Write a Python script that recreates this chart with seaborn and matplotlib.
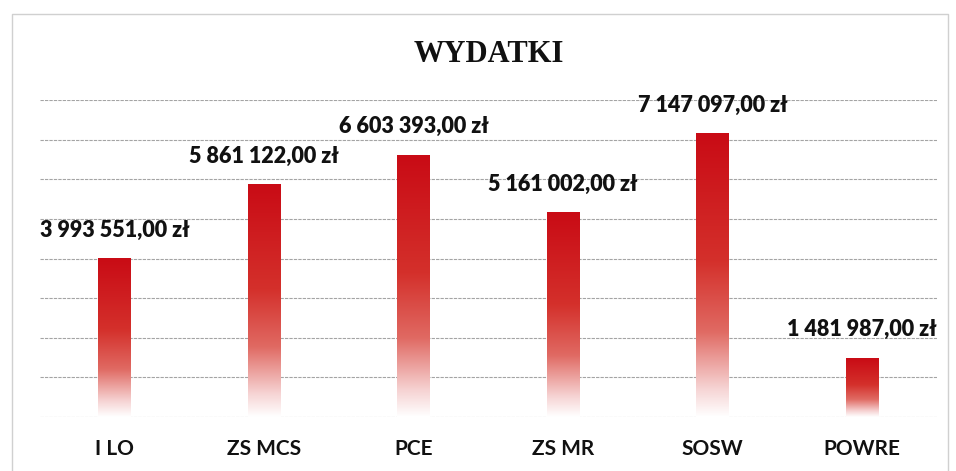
import numpy as np
import pandas as pd
import matplotlib
matplotlib.use("Agg")
import matplotlib.pyplot as plt
from matplotlib.colors import LinearSegmentedColormap
import seaborn as sns

categories = ["I LO", "ZS MCS", "PCE", "ZS MR", "SOSW", "POWRE"]
wydatki = [3993551.00, 5861122.00, 6603393.00, 5161002.00, 7147097.00, 1481987.00]
title = "WYDATKI"


def fmt_zl(v):
    s = f"{v:,.2f}"
    whole, frac = s.split(".")
    return whole.replace(",", " ") + "," + frac + " zł"


df = pd.DataFrame({"jednostka": categories, "kwota": wydatki})

sns.set_theme(style="white")
plt.rcParams["font.family"] = ["Lato", "DejaVu Sans"]

fig = plt.figure(figsize=(9.56, 4.71), dpi=100)
ax = fig.add_axes([40 / 956, 54 / 471, 897 / 956, 317 / 471])

sns.barplot(data=df, x="jednostka", y="kwota", ax=ax, color="#cc0c16", width=0.22)

# gradient fill like the original (red on top fading to white at the bottom)
cmap = LinearSegmentedColormap.from_list(
    "fade",
    [(0.0, "#ffffff"), (0.1, "#f6d3d3"), (0.3, "#e06a63"), (0.55, "#d4302b"), (1.0, "#c90b15")],
)
grad = np.linspace(1, 0, 256).reshape(-1, 1)
for bar in ax.patches:
    x0, w, h = bar.get_x(), bar.get_width(), bar.get_height()
    ax.imshow(grad, cmap=cmap, aspect="auto", extent=[x0, x0 + w, 0, h], zorder=3)
    bar.set_visible(False)

for i, v in enumerate(df["kwota"]):
    ax.annotate(fmt_zl(v), xy=(i, v), xytext=(0, 13), textcoords="offset points",
                ha="center", va="bottom", fontsize=15.5, fontweight="heavy", color="#111111")

ax.set_xlim(-0.5, len(categories) - 0.5)
ax.set_ylim(0, 8_000_000)
ax.set_yticks(np.arange(0, 8_000_001, 1_000_000))
ax.yaxis.grid(True, color="#a4a4a4", linewidth=0.8, linestyle=(0, (3, 1)))
ax.set_axisbelow(True)
ax.set_yticklabels([])
ax.tick_params(axis="y", length=0)
ax.tick_params(axis="x", length=0, pad=16, labelsize=15, labelcolor="#111111")
for lbl in ax.get_xticklabels():
    lbl.set_fontweight("bold")
ax.set_xlabel("")
ax.set_ylabel("")
sns.despine(ax=ax, left=True, bottom=True)

fig.text(489 / 956, 1 - 62 / 471, title, ha="center", va="baseline",
         fontsize=22, fontweight="bold", family="Liberation Serif", color="#111111")

# light frame around the chart area
fig.add_artist(plt.Line2D([12 / 956, 12 / 956, 948 / 956, 948 / 956],
                          [0, 1 - 14 / 471, 1 - 14 / 471, 0],
                          transform=fig.transFigure, color="#d0d0d0", linewidth=1))

fig.savefig("out.png", dpi=100)
